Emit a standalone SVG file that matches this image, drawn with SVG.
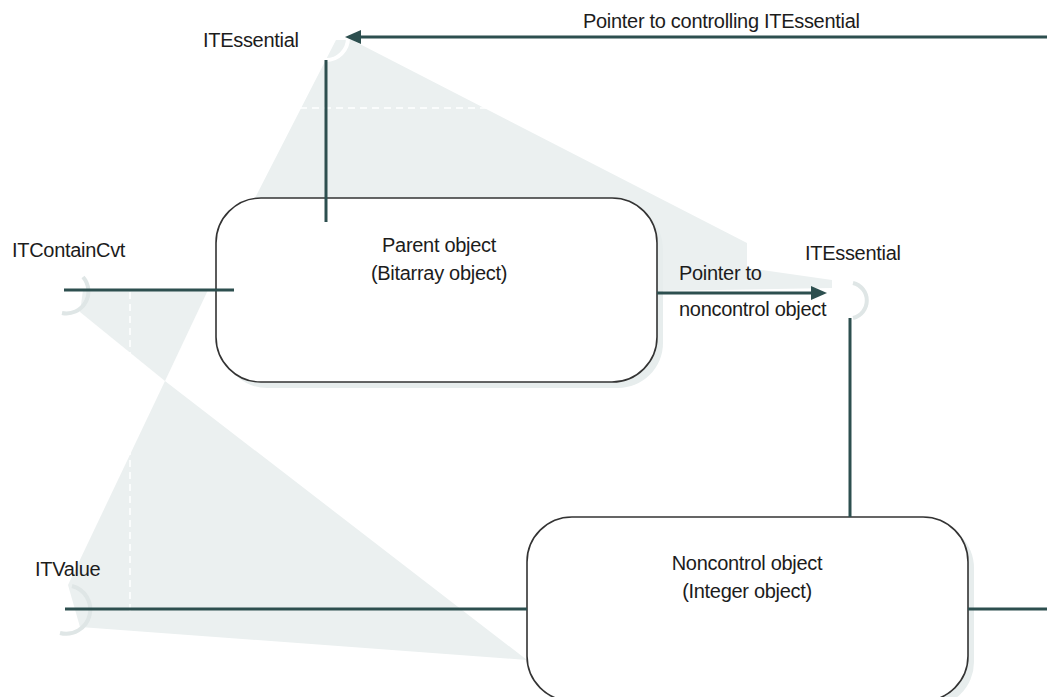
<svg xmlns="http://www.w3.org/2000/svg" width="1047" height="697" viewBox="0 0 1047 697">
<style>
.t{font-family:"Liberation Sans",Arial,sans-serif;font-size:20px;letter-spacing:-0.3px;fill:#1c1c1c}
.m{text-anchor:middle}
.c{stroke:#2d4f4f;stroke-width:3;fill:none}
.box{fill:#ffffff;stroke:#333333;stroke-width:1.6}
.shadow{fill:#e7eded}
.shade{fill:#ebf0f0}
.gap{stroke:#ffffff;stroke-width:1.5;stroke-dasharray:7 5;fill:none}
.sock{fill:none;stroke:#dfe6e6;stroke-width:4}
.sockw{fill:none;stroke:#ffffff;stroke-width:4}
</style>
<defs>
<marker id="ah" markerUnits="userSpaceOnUse" markerWidth="16" markerHeight="14" refX="6" refY="7" orient="auto">
<path d="M0,0 L16,7 L0,14 Z" fill="#2d4f4f"/>
</marker>
</defs>
<g id="shading">
<polygon class="shade" points="336,40 352,40 747,243 747,268 832,280 832,288 657,291 255,198"/>
<polygon class="shade" points="83,290 208,290 165,381 80,312"/>
<polygon class="shade" points="165,381 527,660 80,627 68,585"/>
<line class="gap" x1="300" y1="108" x2="497" y2="108"/>
<line class="gap" x1="130" y1="292" x2="130" y2="612"/>
<path class="sockw" d="M348,38 A22,22 0 0 1 326,60"/>
<path class="sock" d="M83,277 A22,22 0 0 1 62,313"/>
<path class="sock" d="M72,586 A24,24 0 0 1 60,633"/>
<path class="sock" d="M853,283 A18,18 0 0 1 853,318"/>
</g>
<g id="parent">
<rect class="shadow" x="222" y="204" width="441" height="184" rx="45"/>
<rect class="box" x="216" y="198" width="441" height="184" rx="45"/>
<text class="t m" x="439" y="252">Parent object</text>
<text class="t m" x="439" y="280">(Bitarray object)</text>
</g>
<g id="noncontrol">
<rect class="shadow" x="533" y="523" width="441" height="184" rx="45"/>
<rect class="box" x="527" y="517" width="441" height="184" rx="45"/>
<text class="t m" x="747" y="570">Noncontrol object</text>
<text class="t m" x="747" y="598">(Integer object)</text>
</g>
<g id="iface-top-itessential">
<text class="t" x="203" y="47">ITEssential</text>
</g>
<g id="iface-itcontaincvt">
<text class="t" x="12" y="257">ITContainCvt</text>
</g>
<g id="iface-right-itessential">
<text class="t" x="805" y="260">ITEssential</text>
</g>
<g id="iface-itvalue">
<text class="t" x="35" y="576">ITValue</text>
</g>
<g id="connectors">
<line class="c" x1="1047" y1="37" x2="355" y2="37" marker-end="url(#ah)"/>
<text class="t" x="583" y="28">Pointer to controlling ITEssential</text>
<line class="c" x1="326" y1="60" x2="326" y2="222"/>
<line class="c" x1="64" y1="290" x2="234" y2="290"/>
<line class="c" x1="657" y1="293" x2="817" y2="293" marker-end="url(#ah)"/>
<text class="t" x="679" y="280">Pointer to</text>
<text class="t" x="679" y="316">noncontrol object</text>
<line class="c" x1="850" y1="318" x2="850" y2="517"/>
<line class="c" x1="65" y1="609" x2="527" y2="609"/>
<line class="c" x1="968" y1="609" x2="1047" y2="609"/>
</g>
</svg>
